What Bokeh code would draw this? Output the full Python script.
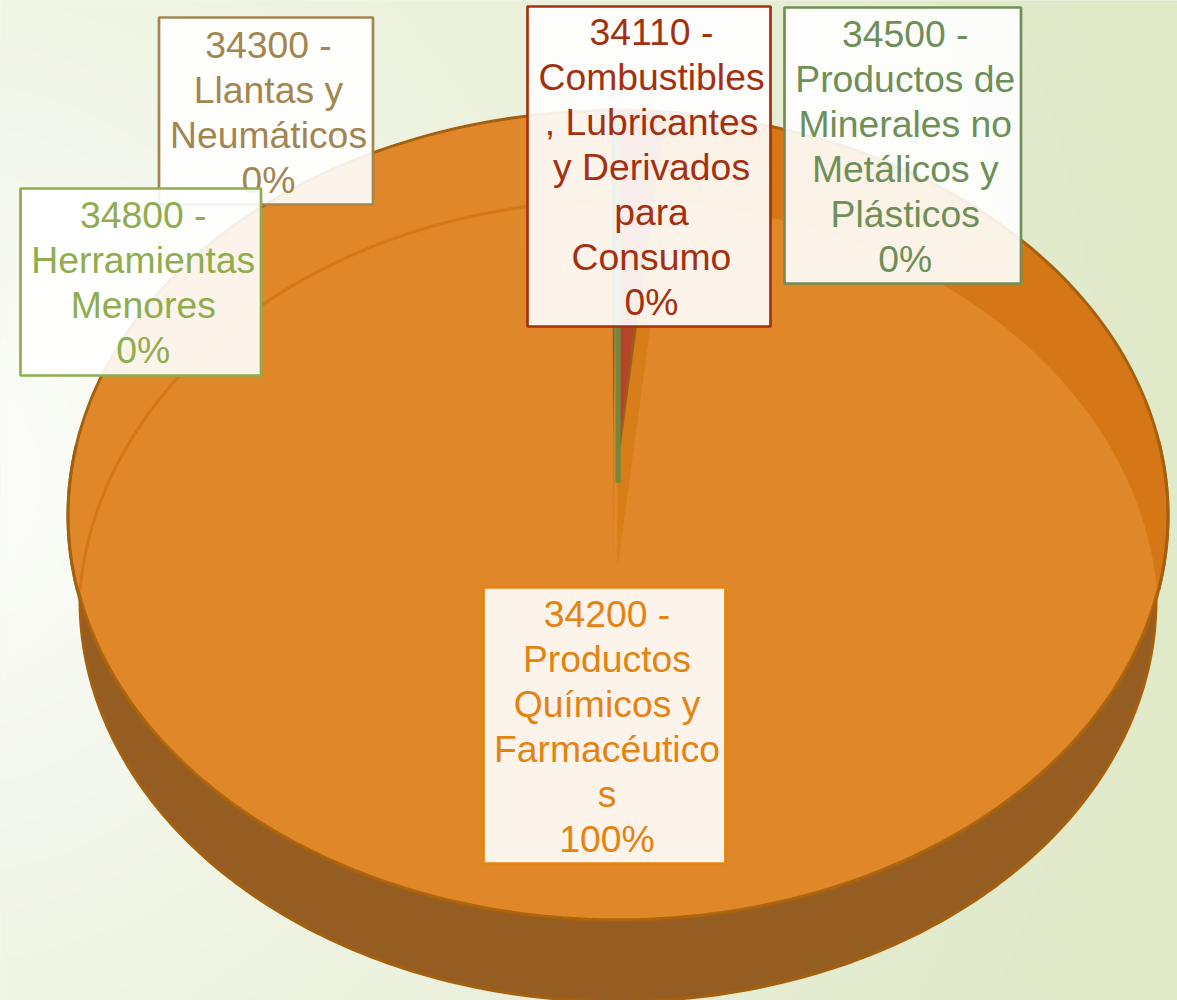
import numpy as np
from bokeh.plotting import figure
from bokeh.core.properties import value
from bokeh.embed import file_html
from bokeh.resources import INLINE

# ---- data ----
categories = ["34200", "34110", "34500", "34300", "34800"]
values = [99.56, 0.30, 0.10, 0.02, 0.02]
label_lines = [
    ["34200 -", "Productos", "Químicos y", "Farmacéutico", "s"],
    ["34110 -", "Combustibles", ", Lubricantes", "y Derivados", "para", "Consumo"],
    ["34500 -", "Productos de", "Minerales no", "Metálicos y", "Plásticos"],
    ["34300 -", "Llantas y", "Neumáticos"],
    ["34800 -", "Herramientas", "Menores"],
]

# ---- styles and layout ----
W, H = 1177, 1000
FONT = "Liberation Sans"
FS = "37.33px"
LINE = 45
TEXT_DX, TEXT_DY = 2.5, -14
label_colors = ["#E48312", "#A5300F", "#6F8F58", "#A3864F", "#8FAD4F"]
boxes = {  # x0, x1, y0, y1, first baseline
    "34300": (158.5, 372.5, 17, 204, 58),
    "34800": (20, 260.5, 188, 375, 228),
    "34110": (527, 770, 6, 326, 45),
    "34500": (784, 1020.5, 7, 283, 47),
    "34200": (483, 725, 587, 863, 627),
}
draw_order = ["34300", "34800", "34500", "34110", "34200"]
PERSPECTIVE = 4.0  # the 3-D view widens slivers near the viewer

p = figure(width=W, height=H, x_range=(0, W), y_range=(H, 0),
           output_backend="svg", toolbar_location=None, min_border=0,
           outline_line_color=None, background_fill_color="#EEF2E0",
           border_fill_color="#EEF2E0")
p.axis.visible = False
p.grid.visible = False
p.styles = {"position": "absolute", "left": "0", "top": "0"}

# background radial gradient
gy, gx = np.mgrid[0:H + 8:4, 0:W + 8:4]
d = np.sqrt(((gx + 60) / 1240.0) ** 2 + ((gy - 480) / 1300.0) ** 2)
t = np.clip(d, 0, 1)[..., None]
c0 = np.array([255, 255, 255.0])
c1 = np.array([224, 233, 200.0])
rgb = (c0 + (c1 - c0) * t ** 0.8).astype(np.uint32)
img = (255 << 24) | (rgb[..., 2] << 16) | (rgb[..., 1] << 8) | rgb[..., 0]
p.image_rgba(image=[img.astype(np.uint32)], x=-4, y=-4, dw=W + 8, dh=H + 8)


def arc(cx, cy, rx, ry, a0, a1, n=180):
    a = np.radians(np.linspace(a0, a1, n))
    return cx + rx * np.cos(a), cy + ry * np.sin(a)


# side of the pie
xs, ys = arc(617.5, 600, 538, 401, 0, 360, 360)
p.patch(xs, ys, fill_color="#955D21", line_color="#A5600F", line_width=3)

# rim (dark on the right, light on the left)
xs, ys = arc(617.5, 515, 550, 405, 0, 360, 360)
p.patch(xs, ys, fill_color="#D57716", line_color="#A5600F", line_width=3)
xs, ys = arc(617.5, 515, 548.5, 403.5, 90, 270)
p.patch(xs, ys, fill_color="#DF8729", line_color=None)

# top face: upper arc of a deeper ellipse, lower arc of the outer one
ux, uy = arc(618, 620, 540, 420, 184.1, 355.9)
lx, ly = arc(617.5, 515, 548.5, 403.5, 10.7, 169.3)
p.patch(np.r_[ux, lx], np.r_[uy, ly], fill_color="#DF8729", line_color=None)
xs, ys = arc(618, 620, 540, 420, 184.1, 270)
p.line(xs, ys, line_color="#D57716", line_width=3)
xs, ys = arc(617.5, 515, 549, 404, 10.7, 169.3)
p.line(xs, ys, line_color="#AD6510", line_width=2.5)
xs, ys = arc(617.5, 515, 550, 405, -10.7, 10.7)
p.line(xs, ys, line_color="#A5600F", line_width=3)
xs, ys = arc(617.5, 515, 550, 405, 169.3, 190)
p.line(xs, ys, line_color="#A5600F", line_width=3)

# slivers of the small slices, their angle taken from the values
frac = dict(zip(categories, values))


def sliver(apex_x, apex_y, start_deg, val, color):
    sweep = val / 100 * 360 * PERSPECTIVE
    a = np.linspace(start_deg, start_deg + sweep, 12)
    r = np.radians(a)
    xs = np.r_[apex_x, apex_x + 550 * np.sin(r)]
    ys = np.r_[apex_y, 515 - 405 * np.cos(r)]
    p.patch(xs, ys, fill_color=color, line_color=None)


sliver(617, 567, 0.0, frac["34110"] * 1.5, "#D77D1A")
sliver(613, 567, -0.2, frac["34500"] * 0.4, "#CF7E24")
sliver(619, 455, 0.0, frac["34110"] * 1.12, "#9C5F16")
sliver(619, 440, 0.0, frac["34110"], "#B4452A")
sliver(613, 440, -0.2, frac["34300"] * 2, "#5F6F50")
p.quad(left=[615], right=[620], top=[120], bottom=[482], fill_color="#6F8A3F", line_color=None)

# labels
colors = dict(zip(categories, label_colors))
lines_by = dict(zip(categories, label_lines))
for cat in draw_order:
    x0, x1, y0, y1, base = boxes[cat]
    p.quad(left=[x0], right=[x1], top=[y0], bottom=[y1], fill_color="white", fill_alpha=0.9,
           line_color=colors[cat], line_width=2.7)
    txt = lines_by[cat] + [f"{round(frac[cat])}%"]
    cx = (x0 + x1) / 2 + TEXT_DX
    p.text(x=[cx] * len(txt), y=[base + TEXT_DY + LINE * i for i in range(len(txt))], text=txt,
           text_font=value(FONT), text_font_size=value(FS), text_color=colors[cat],
           text_align="center", text_baseline="alphabetic")

open("out.html", "w").write(file_html(p, INLINE))
